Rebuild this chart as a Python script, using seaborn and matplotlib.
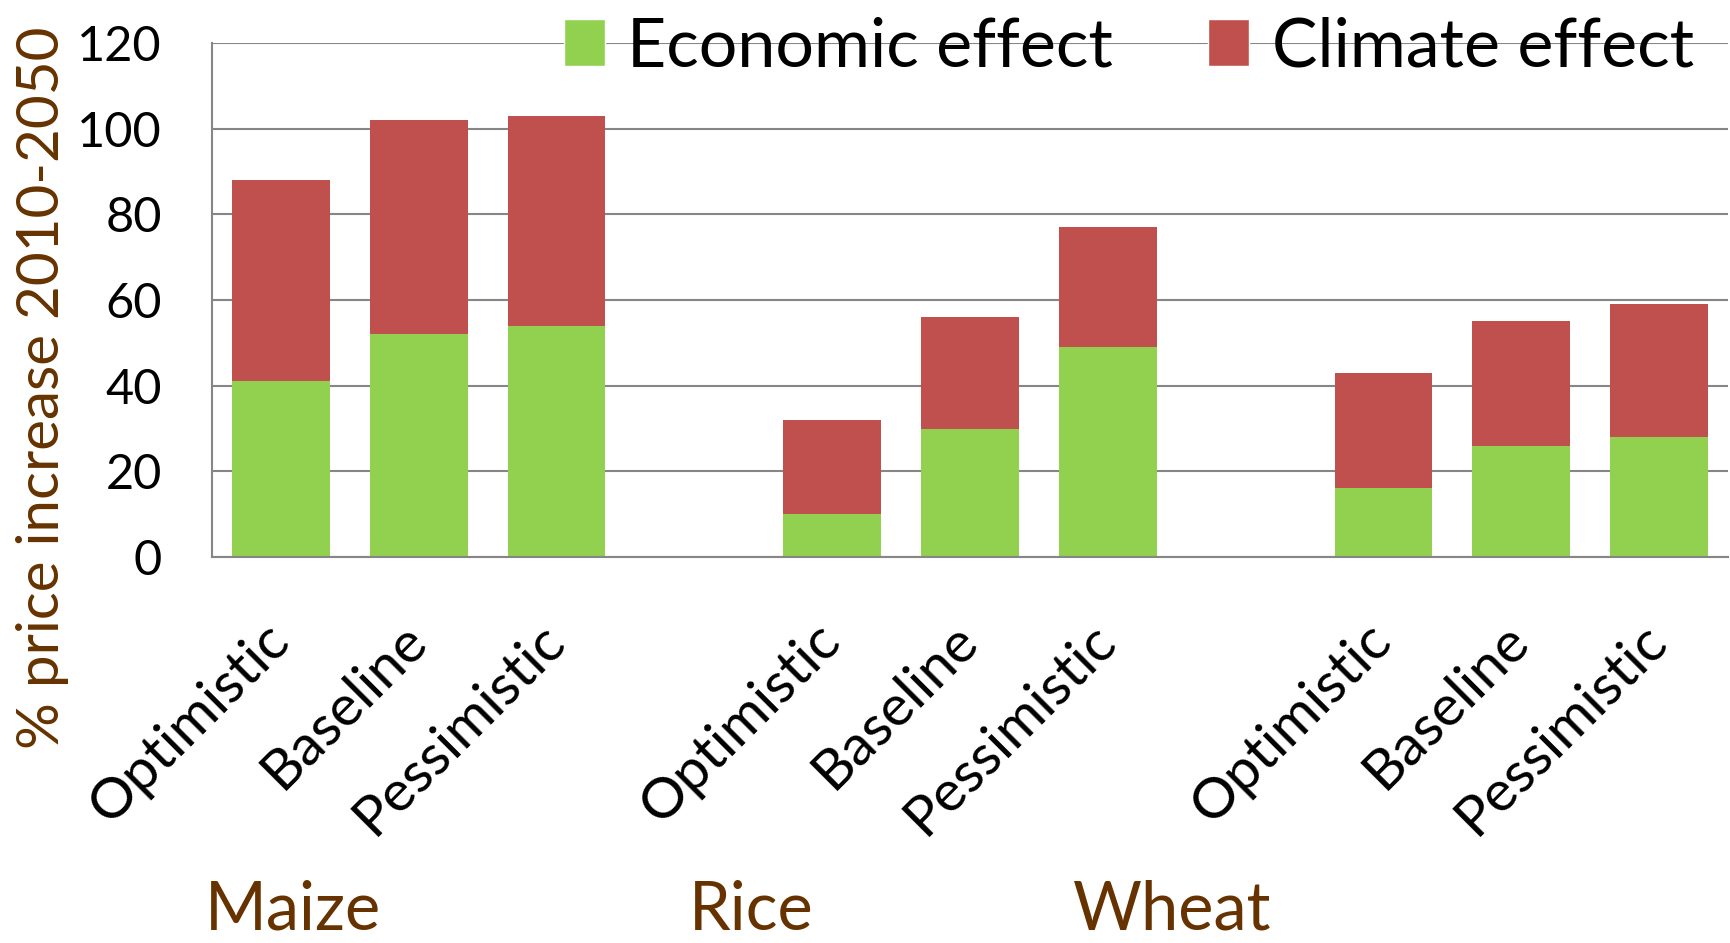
import numpy as np
import pandas as pd
import matplotlib
matplotlib.use("Agg")
import matplotlib.pyplot as plt
import seaborn as sns
from matplotlib.patches import Patch

# Price increase 2010-2050 (%) split into economic and climate components
crops = ["Maize", "Rice", "Wheat"]
scenarios = ["Optimistic", "Baseline", "Pessimistic"]

maize_economic = [41, 52, 54]
maize_climate = [47, 50, 49]
rice_economic = [10, 30, 49]
rice_climate = [22, 26, 28]
wheat_economic = [16, 26, 28]
wheat_climate = [27, 29, 31]

series_names = ["Economic effect", "Climate effect"]

GREEN = "#92D050"
RED = "#C0504D"
GRAY = "#868686"
BROWN = "#663300"

sns.set_style("white")
plt.rcParams["font.family"] = ["Lato", "DejaVu Sans"]
plt.rcParams["text.color"] = "black"
plt.rcParams["xtick.labelcolor"] = "black"
plt.rcParams["ytick.labelcolor"] = "black"

economic = {"Maize": maize_economic, "Rice": rice_economic, "Wheat": wheat_economic}
climate = {"Maize": maize_climate, "Rice": rice_climate, "Wheat": wheat_climate}

rows = []
for crop in crops:
    for i, scen in enumerate(scenarios):
        rows.append({
            "slot": f"{crop}-{scen}",
            "economic": economic[crop][i],
            "climate": climate[crop][i],
        })
df = pd.DataFrame(rows)
df["total"] = df["economic"] + df["climate"]

# One empty slot between crop groups
order = []
for k, crop in enumerate(crops):
    order += [f"{crop}-{s}" for s in scenarios]
    if k < len(crops) - 1:
        order.append(f"gap-{k}")

W, H = 1730, 943
fig = plt.figure(figsize=(W / 100, H / 100), dpi=100)
ax = fig.add_axes([212 / W, 1 - 557 / H, (1728 - 212) / W, (557 - 43) / H])

# Stacked bars: full height in red, economic part in green on top
sns.barplot(data=df, x="slot", y="total", order=order, color=RED, saturation=1,
            width=0.71, errorbar=None, linewidth=0, ax=ax)
sns.barplot(data=df, x="slot", y="economic", order=order, color=GREEN, saturation=1,
            width=0.71, errorbar=None, linewidth=0, ax=ax)

ax.set_xlim(-0.5, len(order) - 0.5)
ax.set_ylim(0, 120)
ax.set_yticks(range(0, 121, 20))
ax.set_xlabel("")
ax.set_ylabel("")

ax.yaxis.grid(True, color=GRAY, linewidth=1.5)
ax.set_axisbelow(True)
for side in ("top", "right"):
    ax.spines[side].set_visible(False)
for side in ("left", "bottom"):
    ax.spines[side].set_color(GRAY)
    ax.spines[side].set_linewidth(1.5)

labels = [o.split("-")[1] if not o.startswith("gap") else "" for o in order]
ax.set_xticks(range(len(order)))
ax.set_xticklabels(labels)
ax.set_xticks(np.arange(-0.5, len(order), 1.0), minor=True)
ax.tick_params(axis="x", which="major", length=0, pad=54, labelsize=41,
               labelcolor="black")
ax.tick_params(axis="x", which="minor", length=13.5, width=1.5, color=GRAY)
plt.setp(ax.get_xticklabels(), rotation=45, ha="right", va="center",
         rotation_mode="anchor")
ax.tick_params(axis="y", length=11, width=1.5, color=GRAY, pad=25, labelsize=35,
               labelcolor="black")

handles = [Patch(facecolor=GREEN, label=series_names[0]),
           Patch(facecolor=RED, label=series_names[1])]
leg = ax.legend(handles=handles, loc="center left", ncol=2, frameon=False,
                bbox_to_anchor=(564 / W, 1 - 47.5 / H), bbox_transform=fig.transFigure,
                fontsize=49, handlelength=0.6, handleheight=0.69, handletextpad=0.33,
                columnspacing=1.4, borderpad=0, borderaxespad=0)
for t in leg.get_texts():
    t.set_color("black")

fig.text(43 / W, 1 - 388 / H, "% price increase 2010-2050", rotation=90,
         ha="center", va="center", color=BROWN, fontsize=42)

for crop, x in zip(crops, [205, 689, 1073]):
    fig.text(x / W, 1.5 / H, crop, ha="left", va="bottom",
             color=BROWN, fontsize=48)

fig.savefig("out.png", dpi=100)
